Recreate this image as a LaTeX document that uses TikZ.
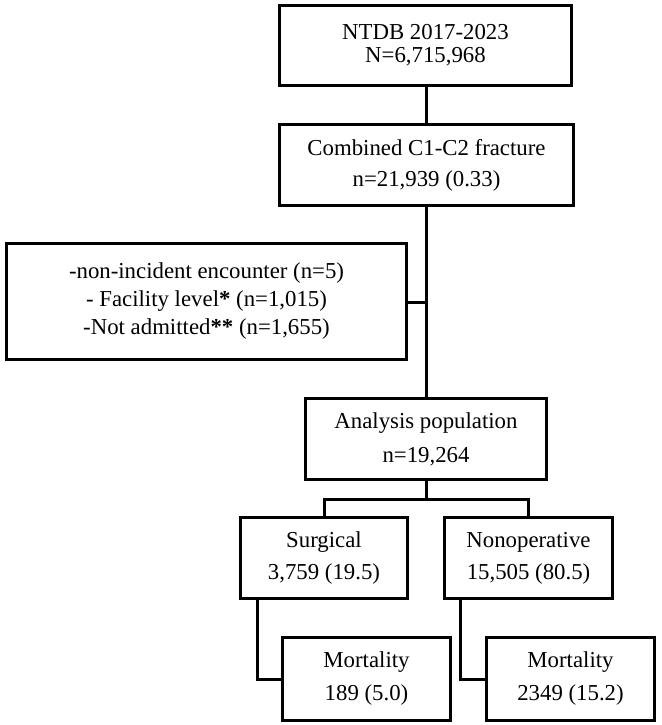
\documentclass[tikz,border=0pt]{standalone}
\usepackage{fontspec}
\setmainfont{Liberation Serif}
\begin{document}
\begin{tikzpicture}[x=1pt,y=-1pt,
  box/.style={draw=black,line width=3pt,fill=white,inner sep=0pt,align=center,
    font=\fontsize{22.8}{31}\selectfont},
  conn/.style={draw=black,line width=3pt}]
\useasboundingbox (0,0) rectangle (661,725);
\node[box,minimum width=292pt,minimum height=80pt,font=\fontsize{22.8}{23}\selectfont] (ntdb) at (425.5,45.5) {NTDB 2017-2023\\N=6,715,968};
\node[box,minimum width=294pt,minimum height=81pt] (comb) at (426.5,165) {Combined C1-C2 fracture\\n=21,939 (0.33)};
\node[box,minimum width=400pt,minimum height=116pt,font=\fontsize{22.8}{28}\selectfont] (excl) at (206.5,301.5) {-non-incident encounter (n=5)\\- Facility level\textbf{*} (n=1,015)\\-Not admitted\textbf{**} (n=1,655)};
\node[box,minimum width=241pt,minimum height=81pt,font=\fontsize{22.8}{34}\selectfont] (anal) at (426,439) {Analysis population\\n=19,264};
\node[box,minimum width=167pt,minimum height=81pt,font=\fontsize{22.8}{32}\selectfont] (surg) at (324,558) {Surgical\\3,759 (19.5)};
\node[box,minimum width=168pt,minimum height=81pt,font=\fontsize{22.8}{32}\selectfont] (nonop) at (528.5,558) {Nonoperative\\15,505 (80.5)};
\node[box,minimum width=168pt,minimum height=83pt,font=\fontsize{22.8}{33}\selectfont] (mort1) at (366.5,679) {Mortality\\189 (5.0)};
\node[box,minimum width=168pt,minimum height=83pt,font=\fontsize{22.8}{33}\selectfont] (mort2) at (570.5,679) {Mortality\\2349 (15.2)};
\coordinate (spine) at (426,302);
\coordinate (bar) at (426,499);
\draw[conn] (ntdb.south -| 426,0) -- (comb.north -| 426,0);
\draw[conn] (comb.south -| 426,0) -- (anal.north -| 426,0);
\draw[conn] (excl.east |- spine) -- (spine);
\draw[conn] (anal.south -| bar) -- (bar);
\draw[conn] (surg.north -| 324,0) |- (bar) -| (nonop.north -| 528,0);
\draw[conn] (surg.south -| 257,0) |- (mort1.west);
\draw[conn] (nonop.south -| 460,0) |- (mort2.west);
\end{tikzpicture}
\end{document}
